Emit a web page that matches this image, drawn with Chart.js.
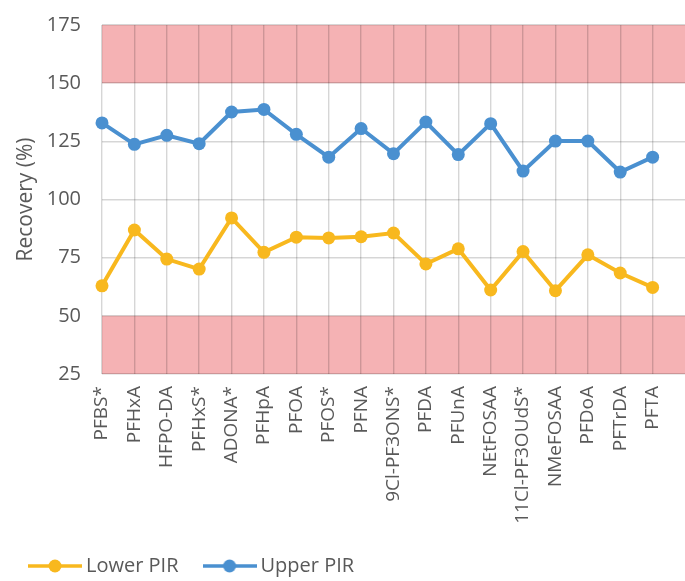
<!DOCTYPE html>
<html>
<head>
<meta charset="utf-8">
<script src="https://cdn.jsdelivr.net/npm/chart.js@4"></script>
<style>
  body { margin: 0; background: #fff; }
  #wrap { width: 685px; height: 581px; }
</style>
</head>
<body>
<div id="wrap"><canvas id="chart"></canvas></div>
<script>
// ==================== DATOS ====================
const compounds = ['PFBS*', 'PFHxA', 'HFPO-DA', 'PFHxS*', 'ADONA*', 'PFHpA', 'PFOA', 'PFOS*', 'PFNA',
    '9Cl-PF3ONS*', 'PFDA', 'PFUnA', 'NEtFOSAA', '11Cl-PF3OUdS*', 'NMeFOSAA', 'PFDoA', 'PFTrDA', 'PFTA'];
const lowerPIR = [62.9, 86.9, 74.4, 70.1, 92.1, 77.3, 83.8, 83.5, 84.0, 85.6, 72.3, 78.8, 61.1, 77.6, 60.8, 76.2, 68.4, 62.2];
const upperPIR = [132.9, 123.7, 127.6, 124.0, 137.6, 138.7, 128.0, 118.2, 130.5, 119.7, 133.3, 119.3, 132.6, 112.2, 125.1, 125.1, 111.8, 118.2];
const yTicks = [25, 50, 75, 100, 125, 150, 175];
// zonas fuera de rango (rojo)
const bandRanges = [[150, 175], [25, 50]];

const FONT = '"Open Sans", sans-serif';
const TEXT = '#595959';
const GOLD = '#f8b81e';
const BLUE = '#4a90d0';
const GRID = 'rgba(0,0,0,0.16)';

// la grafica original sigue a la derecha: una categoria vacia extra
const xLabels = compounds.concat(['']);

// ==================== LEYENDA ====================
function legendIcon(color) {
    const c = document.createElement('canvas');
    c.width = 54;
    c.height = 16;
    const g = c.getContext('2d');
    g.strokeStyle = color;
    g.lineWidth = 3.5;
    g.beginPath();
    g.moveTo(0, 8);
    g.lineTo(54, 8);
    g.stroke();
    g.fillStyle = color;
    g.beginPath();
    g.arc(27, 8, 6.5, 0, Math.PI * 2);
    g.fill();
    return c;
}

// ==================== BANDAS ====================
const bandsPlugin = {
    id: 'bands',
    beforeDraw(chart) {
        const { ctx, chartArea, scales } = chart;
        ctx.save();
        ctx.fillStyle = '#f5b2b4';
        for (const [lo, hi] of bandRanges) {
            const top = scales.y.getPixelForValue(hi);
            const bottom = scales.y.getPixelForValue(lo);
            ctx.fillRect(chartArea.left, top, chartArea.right - chartArea.left, bottom - top);
        }
        ctx.restore();
    }
};

// ==================== CHART ====================
new Chart(document.getElementById('chart'), {
    type: 'line',
    data: {
        labels: xLabels,
        datasets: [{
            label: 'Lower PIR',
            data: lowerPIR,
            borderColor: GOLD,
            backgroundColor: GOLD,
            borderWidth: 4,
            pointRadius: 6.5,
            pointHoverRadius: 6.5,
            pointBorderWidth: 0,
            tension: 0,
            clip: 8
        }, {
            label: 'Upper PIR',
            data: upperPIR,
            borderColor: BLUE,
            backgroundColor: BLUE,
            borderWidth: 4,
            pointRadius: 6.5,
            pointHoverRadius: 6.5,
            pointBorderWidth: 0,
            tension: 0,
            clip: 8
        }]
    },
    options: {
        responsive: true,
        maintainAspectRatio: false,
        animation: false,
        layout: { autoPadding: false, padding: { top: 25, right: 0, left: 4, bottom: -5 } },
        plugins: {
            tooltip: { enabled: false },
            legend: {
                position: 'bottom',
                align: 'start',
                labels: {
                    usePointStyle: true,
                    pointStyleWidth: 42,
                    padding: 30,
                    color: TEXT,
                    font: { family: FONT, size: 20 },
                    generateLabels(chart) {
                        return chart.data.datasets.map((ds, i) => ({
                            text: ds.label,
                            fillStyle: ds.borderColor,
                            strokeStyle: ds.borderColor,
                            lineWidth: 0,
                            hidden: false,
                            datasetIndex: i,
                            pointStyle: legendIcon(ds.borderColor),
                            fontColor: TEXT
                        }));
                    }
                }
            }
        },
        scales: {
            x: {
                type: 'category',
                offset: false,
                afterFit(axis) {
                    axis.height = 152;
                    axis.paddingLeft = 0;
                    axis.paddingRight = 0;
                },
                grid: {
                    color: (c) => c.index === xLabels.length - 1 ? 'rgba(0,0,0,0)' : GRID,
                    lineWidth: 1.4,
                    drawTicks: false
                },
                border: { display: false },
                ticks: {
                    minRotation: 90,
                    maxRotation: 90,
                    autoSkip: false,
                    padding: 12,
                    color: TEXT,
                    font: { family: FONT, size: 19 }
                }
            },
            y: {
                min: 25,
                max: 175,
                afterBuildTicks(axis) {
                    axis.ticks = yTicks.map(v => ({ value: v }));
                },
                afterFit(axis) {
                    axis.width = 98;
                    axis.paddingTop = 0;
                    axis.paddingBottom = 0;
                },
                grid: {
                    color: GRID,
                    lineWidth: 1.4,
                    drawTicks: false
                },
                border: { display: false },
                ticks: {
                    padding: 21,
                    color: TEXT,
                    font: { family: FONT, size: 20 }
                },
                title: {
                    display: true,
                    text: 'Recovery (%)',
                    color: TEXT,
                    font: { family: FONT, size: 21 },
                    padding: { top: 9, bottom: 0 }
                }
            }
        }
    },
    plugins: [bandsPlugin]
});
</script>
</body>
</html>
